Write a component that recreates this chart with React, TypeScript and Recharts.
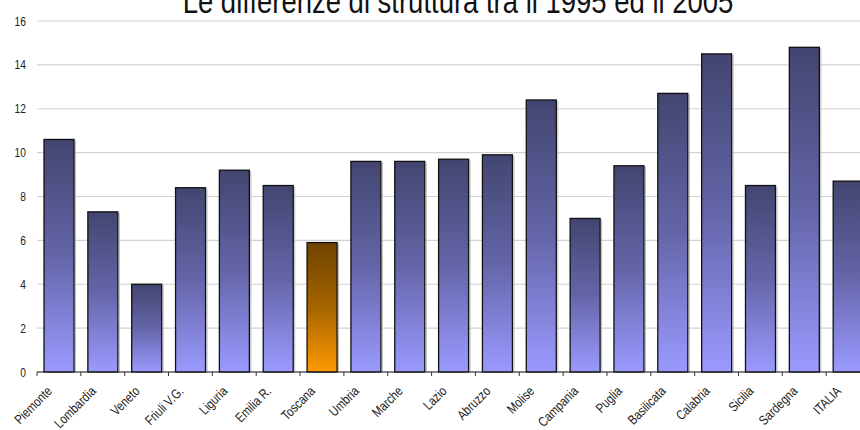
import React from "react";
import { BarChart, Bar, XAxis, YAxis, CartesianGrid, Cell } from "recharts";

const regions = [
  "Piemonte", "Lombardia", "Veneto", "Friuli V.G.", "Liguria", "Emilia R.", "Toscana",
  "Umbria", "Marche", "Lazio", "Abruzzo", "Molise", "Campania", "Puglia",
  "Basilicata", "Calabria", "Sicilia", "Sardegna", "ITALIA",
];
const values = [
  10.6, 7.3, 4.0, 8.4, 9.2, 8.5, 5.9, 9.6, 9.6, 9.7, 9.9, 12.4, 7.0, 9.4, 12.7, 14.5, 8.5, 14.8, 8.7,
];
const yTicks = [0, 2, 4, 6, 8, 10, 12, 14, 16];
const highlight = "Toscana";
const title = "Le differenze di struttura tra il 1995 ed il 2005";

const data = regions.map((name, i) => ({ name, value: values[i] }));

const FONT = "'Liberation Sans', Arial, sans-serif";
const NARROW = 0.82;

const XTick = (props: any) => {
  const { x, y, payload } = props;
  const half = payload && payload.offset ? payload.offset : 0;
  const lx = x - half;
  const ax = x - 6;
  const ay = y + 20;
  return (
    <g>
      <line x1={lx} y1={y} x2={lx} y2={y + 4} stroke="#333" strokeWidth={1} />
      <text
        transform={`translate(${ax}, ${ay}) rotate(-45) scale(${NARROW}, 1)`}
        textAnchor="end"
        fontSize={13.5}
        fontFamily={FONT}
        fill="#222"
      >
        {payload.value}
      </text>
    </g>
  );
};

const YTick = (props: any) => {
  const { x, y, payload } = props;
  return (
    <text
      transform={`translate(${x}, ${y + 4.5}) scale(${NARROW}, 1)`}
      textAnchor="end"
      fontSize={12.5}
      fontFamily={FONT}
      fill="#222"
    >
      {payload.value}
    </text>
  );
};

const BarShape = (props: any) => {
  const { x, y, width, height, fill } = props;
  if (height <= 0) return null;
  return (
    <g>
      <line x1={x + width + 1.5} y1={y + 1} x2={x + width + 1.5} y2={y + height} stroke="#bbb" strokeWidth={1} />
      <rect x={x} y={y} width={width} height={height} fill={fill} stroke="#111" strokeWidth={1.3} />
    </g>
  );
};

export default function App() {
  return (
    <div style={{ position: "absolute", left: 0, top: 0, width: 860, height: 430, overflow: "hidden", background: "#fff" }}>
      <BarChart
        width={880}
        height={430}
        data={data}
        margin={{ top: 21, right: 10, left: 0, bottom: 0 }}
        barCategoryGap="16%"
      >
        <defs>
          <linearGradient id="gBlue" x1="0" y1="0" x2="0" y2="1">
            <stop offset="0%" stopColor="#434570" />
            <stop offset="50%" stopColor="#6465a8" />
            <stop offset="100%" stopColor="#9a9aff" />
          </linearGradient>
          <linearGradient id="gOrange" x1="0" y1="0" x2="0" y2="1">
            <stop offset="0%" stopColor="#6e4300" />
            <stop offset="50%" stopColor="#a66500" />
            <stop offset="100%" stopColor="#ff9a00" />
          </linearGradient>
        </defs>
        <CartesianGrid vertical={false} stroke="#d2d2d2" strokeWidth={1.2} />
        <XAxis
          dataKey="name"
          interval={0}
          height={58}
          tick={<XTick />}
          tickLine={false}
          tickSize={0}
          tickMargin={0}
          axisLine={{ stroke: "#222" }}
        />
        <YAxis
          width={37}
          domain={[0, 16]}
          ticks={yTicks}
          axisLine={false}
          tickLine={false}
          tickSize={0}
          tickMargin={11}
          tick={<YTick />}
        />
        <Bar dataKey="value" isAnimationActive={false} shape={<BarShape />}>
          {data.map((d) => (
            <Cell key={d.name} fill={d.name === highlight ? "url(#gOrange)" : "url(#gBlue)"} />
          ))}
        </Bar>
      </BarChart>
      <svg width={860} height={40} style={{ position: "absolute", left: 0, top: 0 }}>
        <text
          transform={`translate(458, 12.5) scale(${NARROW}, 1)`}
          textAnchor="middle"
          fontSize={33.5}
          fontFamily={FONT}
          fill="#111"
        >
          {title}
        </text>
      </svg>
    </div>
  );
}
